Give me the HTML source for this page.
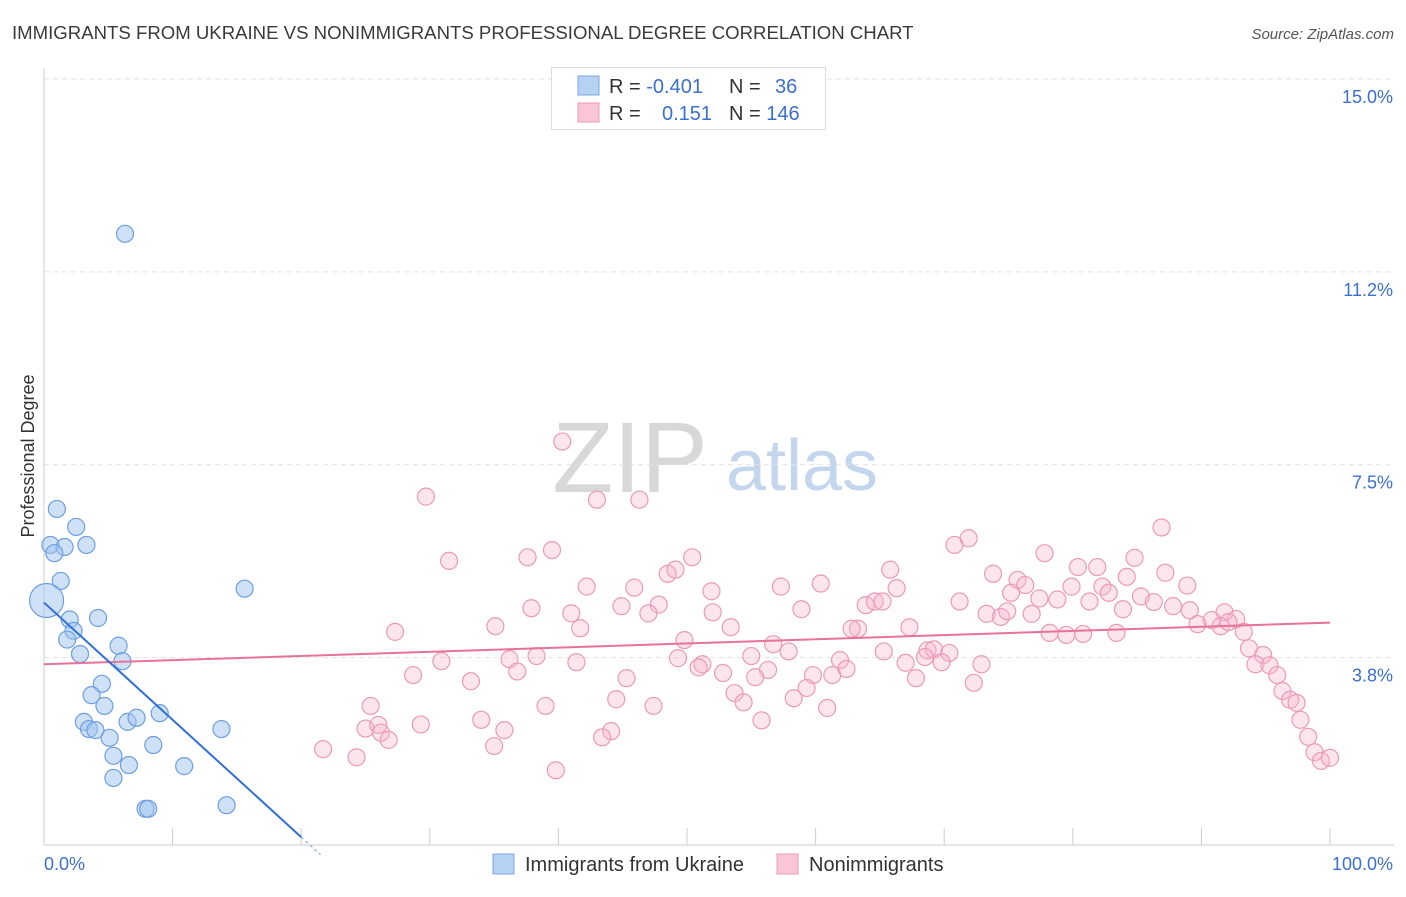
<!DOCTYPE html>
<html><head><meta charset="utf-8">
<style>
body{margin:0;background:#fff;font-family:"Liberation Sans",sans-serif;}
svg text{font-family:"Liberation Sans",sans-serif;}
</style></head>
<body>
<svg id="chart" width="1406" height="892" viewBox="0 0 1406 892" xmlns="http://www.w3.org/2000/svg">
<text x="12" y="39" font-size="18.6" fill="#3a3a3a">IMMIGRANTS FROM UKRAINE VS NONIMMIGRANTS PROFESSIONAL DEGREE CORRELATION CHART</text>
<text x="1394" y="39" font-size="15" fill="#555" font-style="italic" text-anchor="end">Source: ZipAtlas.com</text>
<g>
<text x="630" y="492" font-size="100" fill="#d8d8d8" font-family="Liberation Serif, serif" text-anchor="middle">ZIP</text>
<text x="802" y="490" font-size="72" fill="#c4d6ee" text-anchor="middle">atlas</text>
</g>
<g id="grid"></g>
<g id="axes"></g>
<g id="marks"></g>
<text transform="translate(34,456) rotate(-90)" font-size="18" fill="#333" text-anchor="middle">Professional Degree</text>
<g>
<rect x="551.5" y="67.5" width="274" height="62" fill="#fff" stroke="#ddd"/>
<rect x="578" y="76" width="21" height="19" fill="#b7d1f3" stroke="#7aa7e4"/>
<rect x="578" y="103" width="21" height="19" fill="#f8c6d6" stroke="#ee9ab6"/>
<text x="609" y="93" font-size="20" fill="#333">R = <tspan fill="#3b6fd0">-0.401</tspan></text>
<text x="729" y="93" font-size="20" fill="#333">N = <tspan x="775" fill="#3b6fd0">36</tspan></text>
<text x="609" y="120" font-size="20" fill="#333">R = <tspan x="662" fill="#3b6fd0">0.151</tspan></text>
<text x="729" y="120" font-size="20" fill="#333">N = <tspan fill="#3b6fd0">146</tspan></text>
</g>
<g>
<rect x="493" y="854" width="21" height="20" fill="#b7d1f3" stroke="#7aa7e4"/>
<text x="525" y="871" font-size="20" fill="#333">Immigrants from Ukraine</text>
<rect x="777" y="854" width="21" height="20" fill="#f8c6d6" stroke="#ee9ab6"/>
<text x="809" y="871" font-size="20" fill="#333">Nonimmigrants</text>
</g>
</svg>
<script>
const yTicks=[15.0,11.25,7.5,3.75];
const yTickLabels=["15.0%","11.2%","7.5%","3.8%"];
const xTicks=[0,10,20,30,40,50,60,70,80,90,100];
const blueX=[6.3,1.0,2.5,0.5,1.6,3.3,0.8,1.3,15.6,0.2,2.0,4.2,2.3,1.8,5.8,2.8,6.1,4.5,3.7,4.7,3.1,3.5,4.0,6.5,7.2,9.0,5.1,13.8,8.5,5.4,6.6,10.9,5.4,7.9,8.1,14.2];
const blueY=[11.99,6.64,6.29,5.94,5.90,5.94,5.78,5.24,5.09,4.86,4.49,4.52,4.27,4.10,3.98,3.82,3.68,3.24,3.02,2.81,2.50,2.36,2.34,2.50,2.58,2.67,2.19,2.36,2.05,1.84,1.66,1.64,1.41,0.81,0.81,0.88];
const pinkX=[40.3,29.7,43.0,46.3,86.9,71.9,70.8,39.5,37.6,50.4,31.5,77.8,84.8,80.4,81.9,87.2,48.5,49.1,65.8,73.8,75.7,76.3,84.2,42.2,45.9,57.3,60.4,51.9,66.3,82.3,88.9,79.9,75.2,82.8,85.3,77.4,78.8,81.3,47.8,52.0,44.9,58.9,63.9,64.6,65.2,71.2,37.9,41.0,47.0,86.3,87.8,83.9,89.1,73.3,74.4,74.9,76.8,91.8,92.7,90.8,89.7,91.5,92.1,93.3,35.1,41.7,53.4,27.3,63.3,62.8,67.3,83.4,78.2,79.5,80.8,49.8,56.7,93.7,94.8,65.3,68.7,69.2,70.4,57.9,38.3,36.2,30.9,55.0,61.9,51.2,49.3,41.4,72.9,68.5,69.8,67.0,36.8,50.9,52.8,56.3,59.8,61.3,62.4,94.2,95.3,28.7,45.3,33.2,67.8,72.3,55.3,59.3,95.9,53.7,54.4,44.5,58.3,96.3,96.9,97.4,25.4,39.0,47.4,60.9,34.0,97.7,25.0,29.3,35.8,26.0,26.2,55.8,26.8,44.1,43.4,98.3,21.7,35.0,24.3,98.8,99.3,100.0,39.8];
const pinkY=[7.95,6.88,6.82,6.82,6.28,6.07,5.94,5.84,5.70,5.70,5.63,5.78,5.69,5.51,5.51,5.40,5.38,5.46,5.46,5.38,5.26,5.16,5.32,5.13,5.11,5.13,5.19,5.04,5.10,5.13,5.15,5.13,5.01,5.01,4.94,4.90,4.88,4.84,4.78,4.63,4.75,4.69,4.77,4.84,4.84,4.84,4.71,4.61,4.61,4.83,4.75,4.69,4.67,4.60,4.54,4.65,4.60,4.63,4.50,4.48,4.40,4.36,4.44,4.25,4.36,4.32,4.34,4.25,4.31,4.31,4.34,4.23,4.23,4.19,4.21,4.09,4.01,3.93,3.80,3.87,3.89,3.91,3.84,3.87,3.78,3.72,3.68,3.78,3.70,3.62,3.74,3.66,3.62,3.76,3.66,3.65,3.48,3.56,3.45,3.51,3.41,3.41,3.53,3.62,3.60,3.41,3.35,3.29,3.35,3.26,3.37,3.16,3.41,3.06,2.88,2.94,2.96,3.10,2.93,2.87,2.81,2.81,2.81,2.77,2.54,2.54,2.37,2.45,2.34,2.44,2.29,2.53,2.15,2.32,2.20,2.21,1.97,2.03,1.81,1.91,1.74,1.80,1.56];
const blueTrend=[4.82,-0.228]; // intercept, slope
const pinkTrend=[3.62,0.0081];
const blueTrendEnd=[20,21.5];

const NS="http://www.w3.org/2000/svg";
const X0=44,X1=1330,Y0=850.45,PPU=51.43;
function sx(v){return X0+(X1-X0)*v/100;}
function sy(v){return Y0-v*PPU;}
function mk(tag,attrs,parent){const e=document.createElementNS(NS,tag);for(const k in attrs)e.setAttribute(k,attrs[k]);parent.appendChild(e);return e;}
const grid=document.getElementById('grid'),axes=document.getElementById('axes'),marks=document.getElementById('marks');
yTicks.forEach((t,i)=>{
  const l=mk('line',{x1:X0,x2:1394,y1:sy(t),y2:sy(t),stroke:'#e2e2e2','stroke-dasharray':'5,4'},grid);
  
  
  const tx=mk('text',{x:1393,y:sy(t)+24,'font-size':18,fill:'#3b6fd0','text-anchor':'end'},axes);
  tx.textContent=yTickLabels[i];
  
  
});
const ax=mk('line',{x1:X0,x2:X0,y1:68,y2:845,stroke:'#ccc'},axes);


const bx=mk('line',{x1:X0,x2:1394,y1:845,y2:845,stroke:'#ccc'},axes);


xTicks.forEach(t=>{
  const l=mk('line',{x1:sx(t),x2:sx(t),y1:828,y2:845,stroke:'#ccc'},axes);
  
  
});
const xl0=mk('text',{x:44,y:870,'font-size':18,fill:'#3b6fd0'},axes);xl0.textContent='0.0%';


const xl1=mk('text',{x:1393,y:870,'font-size':18,fill:'#3b6fd0','text-anchor':'end'},axes);xl1.textContent='100.0%';



pinkX.forEach((x,i)=>{
  const c=mk('circle',{cx:sx(x),cy:sy(pinkY[i]),r:8.5,fill:'rgba(246,180,202,0.35)',stroke:'#ec9ab7','stroke-width':1.2},marks);
  
  
});
blueX.forEach((x,i)=>{
  const r=(i===9)?17:8.5;
  const c=mk('circle',{cx:sx(x),cy:sy(blueY[i]),r:r,fill:'rgba(160,196,240,0.5)',stroke:'#6d9fe0','stroke-width':1.2},marks);
  
  
});
const pl=mk('line',{x1:sx(0),y1:sy(pinkTrend[0]),x2:sx(100),y2:sy(pinkTrend[0]+pinkTrend[1]*100),stroke:'#e8729a','stroke-width':2},marks);


const bl=mk('line',{x1:sx(0),y1:sy(blueTrend[0]),x2:sx(blueTrendEnd[0]),y2:sy(blueTrend[0]+blueTrend[1]*blueTrendEnd[0]),stroke:'#2f6fd8','stroke-width':2},marks);


const bd=mk('line',{x1:sx(blueTrendEnd[0]),y1:sy(blueTrend[0]+blueTrend[1]*blueTrendEnd[0]),x2:sx(blueTrendEnd[1]),y2:sy(blueTrend[0]+blueTrend[1]*blueTrendEnd[1]),stroke:'#9bbbe8','stroke-width':1.5,'stroke-dasharray':'3,3'},marks);


</script>
</body></html>
